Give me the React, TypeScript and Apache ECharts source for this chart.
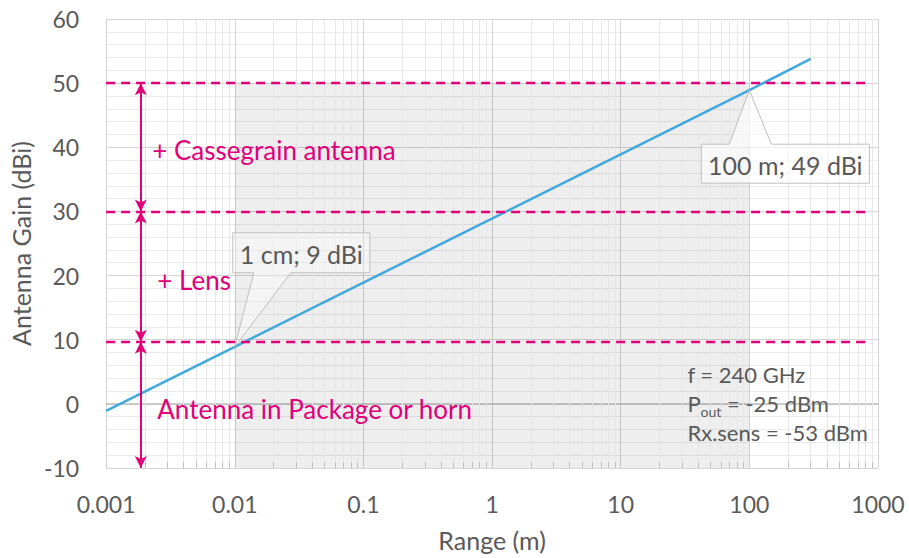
import React, { useEffect, useRef } from "react";
import * as echarts from "echarts";

// ---- data ----
const rangeM = [0.001, 0.01, 100, 300];
const gainDbi = [-1.1, 8.9, 48.9, 53.8];
const xMin = 0.001;
const xMax = 1000;
const yMin = -10;
const yMax = 60;
const levels = [50, 30, 9.7];
const levelEndX = 850;
const shadeX = [0.01, 100];
const shadeY = [-10, 50];
const arrowX = 0.00186;
const bandLabels = ["+ Cassegrain antenna", "+ Lens", "Antenna in Package or horn"];
const bandLabelPos = [
  [0.00228, 39.6],
  [0.0025, 19.3],
  [0.0025, -0.8],
];
const callouts = [
  { x: 0.01, y: 8.9, text: "1 cm; 9 dBi" },
  { x: 100, y: 48.9, text: "100 m; 49 dBi" },
];
const infoPos = [33, 6.8];
const minorMultipliers = [2, 3, 4, 5, 6, 7, 8, 9];
const decades = [0.001, 0.01, 0.1, 1, 10, 100];

const FONT = "Lato, 'Open Sans', sans-serif";
const MAGENTA = "#E0007A";
const GRAY_TXT = "#595959";

export default function App() {
  const ref = useRef<HTMLDivElement>(null);
  useEffect(() => {
    if (!ref.current) return;
    const chart = echarts.init(ref.current, null, { renderer: "svg" });

    const minorXs: number[] = [];
    decades.forEach((d) => minorMultipliers.forEach((m) => minorXs.push(+(d * m).toPrecision(3))));

    const option: any = {
      animation: false,
      textStyle: { fontFamily: FONT },
      grid: { left: 106, right: 31, top: 19, bottom: 90, containLabel: false },
      xAxis: {
        type: "log",
        logBase: 10,
        min: xMin,
        max: xMax,
        name: "Range (m)",
        nameLocation: "middle",
        nameGap: 59,
        nameTextStyle: { fontSize: 25, color: GRAY_TXT, fontFamily: FONT },
        axisLine: { show: true, lineStyle: { color: "#BFBFBF", width: 1.5 } },
        axisTick: { show: false },
        axisLabel: {
          fontSize: 23,
          color: GRAY_TXT,
          margin: 24,
          fontFamily: FONT,
          formatter: (v: number) => {
            if (v >= 1) return String(Math.round(v));
            return String(+v.toPrecision(1));
          },
        },
        splitLine: { show: true, lineStyle: { color: "#D4D4D4", width: 1 } },
      },
      yAxis: {
        type: "value",
        min: yMin,
        max: yMax,
        interval: 10,
        name: "Antenna Gain (dBi)",
        nameLocation: "middle",
        nameGap: 67,
        nameTextStyle: { fontSize: 25, color: GRAY_TXT, fontFamily: FONT },
        axisLine: { show: true, lineStyle: { color: "#D4D4D4" } },
        axisTick: { show: false },
        axisLabel: { fontSize: 23, color: GRAY_TXT, margin: 27, fontFamily: FONT },
        splitLine: { show: true, lineStyle: { color: "#D4D4D4" } },
        minorTick: { show: false, splitNumber: 5 },
        minorSplitLine: { show: true, lineStyle: { color: "#EBEBEB" } },
      },
      series: [
        {
          type: "line",
          data: [],
          z: 1,
          silent: true,
          markArea: {
            silent: true,
            z: 1,
            itemStyle: { color: "rgba(0,0,0,0.065)" },
            data: [[{ coord: [shadeX[0], shadeY[0]] }, { coord: [shadeX[1], shadeY[1]] }]],
          },
          markLine: {
            silent: true,
            z: 1,
            symbol: ["none", "none"],
            label: { show: false },
            lineStyle: { color: "#E6E6E6", type: "solid", width: 1 },
            data: [
              ...minorXs.map((x) => [{ coord: [x, yMin] }, { coord: [x, yMax] }]),
              ...minorXs.map((x) => [
                { coord: [x, yMin], lineStyle: { color: "#BFBFBF", width: 1 } },
                { coord: [x, yMin + 0.9] },
              ]),
            ],
          },
        },
        {
          type: "line",
          data: rangeM.map((x, i) => [x, gainDbi[i]]),
          showSymbol: false,
          symbol: "none",
          z: 3,
          lineStyle: { color: "#3FA9DE", width: 2.5 },
          markLine: {
            silent: true,
            z: 4,
            label: { show: false },
            symbol: ["none", "none"],
            lineStyle: { color: MAGENTA, type: [9, 6], width: 2.4 },
            data: levels.map((l) => [{ coord: [xMin, l] }, { coord: [levelEndX, l] }]),
          },
        },
        {
          type: "line",
          data: [],
          z: 4,
          silent: true,
          markLine: {
            silent: true,
            z: 4,
            label: { show: false },
            symbol: ["arrow", "arrow"],
            symbolSize: [9, 12],
            lineStyle: { color: MAGENTA, type: "solid", width: 2 },
            data: [
              [{ coord: [arrowX, levels[0]] }, { coord: [arrowX, levels[1]] }],
              [{ coord: [arrowX, levels[1]] }, { coord: [arrowX, levels[2]] }],
              [{ coord: [arrowX, levels[2]] }, { coord: [arrowX, yMin] }],
            ],
          },
        },
      ],
    };
    chart.setOption(option);

    const px = (x: number, y: number) => chart.convertToPixel({ gridIndex: 0 }, [x, y]) as number[];
    const graphic: any[] = [];

    bandLabels.forEach((t, i) => {
      const p = px(bandLabelPos[i][0], bandLabelPos[i][1]);
      graphic.push({
        type: "text",
        x: p[0],
        y: p[1],
        z: 20,
        silent: true,
        style: {
          text: t,
          fill: MAGENTA,
          fontSize: 26,
          fontFamily: FONT,
          verticalAlign: "middle",
          align: "left",
        },
      });
    });

    // callout 1: box above-right of point
    {
      const c = callouts[0];
      const t = px(c.x, c.y);
      const L = t[0] - 2, R = t[0] + 135, T = t[1] - 114, B = t[1] - 74;
      graphic.push({
        type: "polygon",
        z: 20,
        silent: true,
        shape: {
          points: [
            [L, T], [R, T], [R, B], [t[0] + 56, B], [t[0], t[1]], [t[0] + 19, B], [L, B],
          ],
        },
        style: { fill: "rgba(255,255,255,0.35)", stroke: "#BFBFBF", lineWidth: 1 },
      });
      graphic.push({
        type: "text", z: 21, silent: true, x: (L + R) / 2, y: (T + B) / 2 + 1,
        style: { text: c.text, fill: GRAY_TXT, fontSize: 25, fontFamily: FONT, align: "center", verticalAlign: "middle" },
      });
    }
    // callout 2: box below-right of point
    {
      const c = callouts[1];
      const t = px(c.x, c.y);
      const L = t[0] - 48, R = t[0] + 120, T = t[1] + 54, B = t[1] + 93;
      graphic.push({
        type: "polygon",
        z: 20,
        silent: true,
        shape: {
          points: [
            [L, T], [t[0] - 20, T], [t[0], t[1]], [t[0] + 22, T], [R, T], [R, B], [L, B],
          ],
        },
        style: { fill: "rgba(255,255,255,0.6)", stroke: "#BFBFBF", lineWidth: 1 },
      });
      graphic.push({
        type: "text", z: 21, silent: true, x: (L + R) / 2, y: (T + B) / 2 + 1,
        style: { text: c.text, fill: GRAY_TXT, fontSize: 25, fontFamily: FONT, align: "center", verticalAlign: "middle" },
      });
    }

    {
      const p = px(infoPos[0], infoPos[1]);
      graphic.push({
        type: "text", z: 21, silent: true, x: p[0], y: p[1],
        style: {
          text: "{a|f = 240 GHz}\n{a|P}{s|out}{a| = -25 dBm}\n{a|Rx.sens = -53 dBm}",
          fill: GRAY_TXT,
          fontFamily: FONT,
          fontSize: 22,
          align: "left",
          verticalAlign: "top",
          rich: {
            a: { fontSize: 22, fill: GRAY_TXT, fontFamily: FONT, lineHeight: 29, verticalAlign: "middle" },
            s: { fontSize: 14, fill: GRAY_TXT, fontFamily: FONT, lineHeight: 29, verticalAlign: "bottom", padding: [0, 0, 0, 0] },
          },
        },
      });
    }

    chart.setOption({ graphic });
    return () => chart.dispose();
  }, []);

  return <div ref={ref} style={{ width: 909, height: 558, position: "absolute", left: 0, top: 0 }} />;
}
